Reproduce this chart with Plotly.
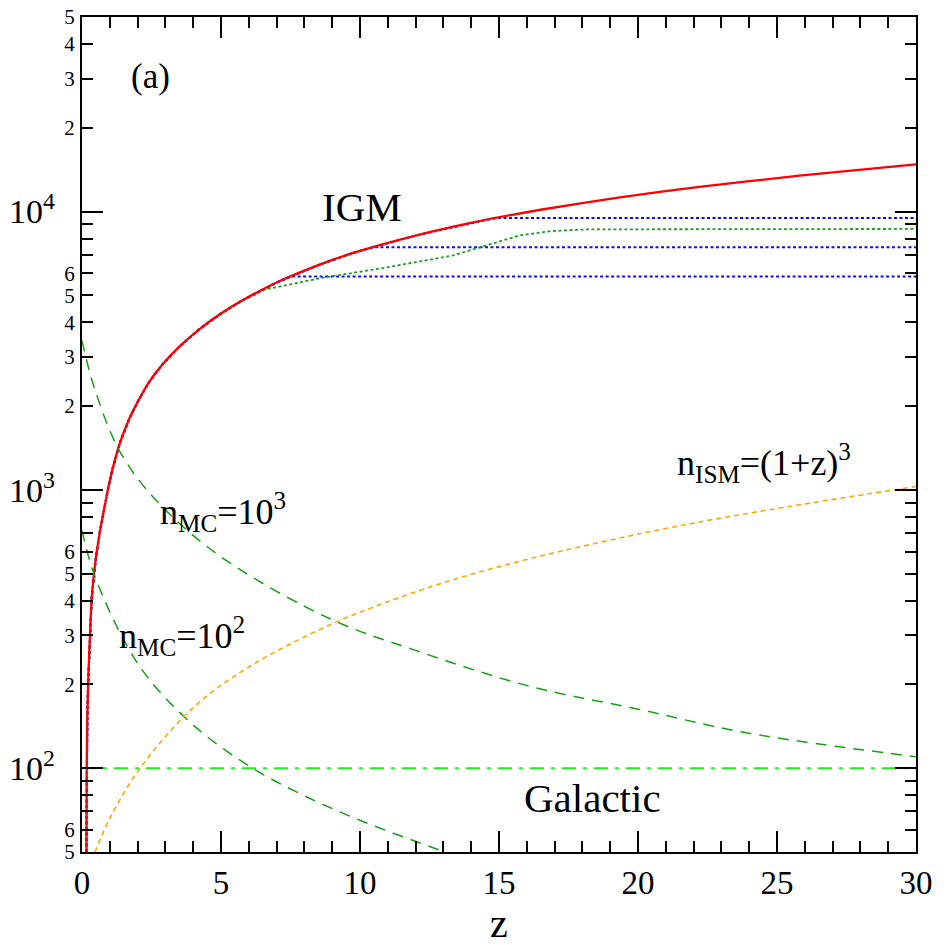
import numpy as np
import plotly.graph_objects as go

# ---------------- data ----------------
z_igm = [0.16, 0.17, 0.19, 0.22, 0.25, 0.35, 0.5, 0.65, 0.93, 1.1, 1.37, 1.7, 2.0, 2.4, 2.9,
         3.5, 4.24, 5.0, 5.68, 7.0, 8.5, 9.75, 12.0, 14.2, 16.5, 19.35, 22.2, 25.8, 30.0]
T_igm = [50, 100, 150, 200, 243, 410, 570, 714, 1000, 1190, 1480, 1800, 2070, 2430, 2826,
         3270, 3790, 4300, 4740, 5560, 6420, 7100, 8200, 9200, 10150, 11250, 12260, 13450, 14780]

blue_levels = [5840, 7440, 9480]

green_z = [6.0, 6.6, 8.56, 10.97, 13.35, 14.57, 15.76, 16.9, 18.2, 30.0]
green_T = [4930, 5250, 5760, 6300, 6960, 7570, 8220, 8510, 8630, 8660]

mc3_z = [0, 0.43, 1.37, 2.7, 5, 8.9, 12, 16.1, 20, 23.9, 30]
mc3_n = [3440, 2350, 1370, 910, 575, 345, 265, 197, 163, 134, 110]

mc2_z = [0, 0.52, 2.09, 4, 6, 7.84, 10, 13.05]
mc2_n = [714, 472, 231, 143, 102, 81, 65, 50]

ism_z = [0.47, 1, 2.09, 4, 6, 9, 12, 15, 18.7, 22, 26, 30]
ism_n = [50, 66, 100, 165, 231, 330, 430, 530, 650, 760, 890, 1028]

gal_z = [0, 30]
gal_n = [100, 100]

x_major = [0, 5, 10, 15, 20, 25, 30]
decades = [100, 1000, 10000]
decade_text = ["10<sup>2</sup>", "10<sup>3</sup>", "10<sup>4</sup>"]
labeled_mult = [2, 3, 4, 5, 6]
unlabeled_mult = [7, 8, 9]

FONT = "Liberation Serif"

# ---------------- figure ----------------
fig = go.Figure()

# blue dotted curves: follow IGM curve, then stay flat
for lvl in blue_levels:
    zc = float(np.interp(lvl, T_igm, z_igm))
    bz = [z for z, t in zip(z_igm, T_igm) if t < lvl] + [zc, 30.0]
    bt = [t for t in T_igm if t < lvl] + [lvl, lvl]
    fig.add_trace(go.Scatter(x=bz, y=bt, mode="lines",
                             line=dict(color="#0a0aff", width=2.0, dash="3px,2.5px"),
                             hoverinfo="skip"))

# green dotted curve
gz = [z for z in z_igm if z < green_z[0]] + green_z
gt = [t for z, t in zip(z_igm, T_igm) if z < green_z[0]] + green_T
fig.add_trace(go.Scatter(x=gz, y=gt, mode="lines",
                         line=dict(color="#1f9f1f", width=1.8, dash="3px,2.5px"),
                         hoverinfo="skip"))

# IGM red
fig.add_trace(go.Scatter(x=z_igm, y=T_igm, mode="lines",
                         line=dict(color="#ff0000", width=2.3, shape="spline", smoothing=0.5),
                         hoverinfo="skip"))

# n_MC curves
fig.add_trace(go.Scatter(x=mc3_z, y=mc3_n, mode="lines",
                         line=dict(color="#16a016", width=1.5, dash="11px,8px", shape="spline"),
                         hoverinfo="skip"))
fig.add_trace(go.Scatter(x=mc2_z, y=mc2_n, mode="lines",
                         line=dict(color="#16a016", width=1.5, dash="11px,8px", shape="spline"),
                         hoverinfo="skip"))
# ISM
fig.add_trace(go.Scatter(x=ism_z, y=ism_n, mode="lines",
                         line=dict(color="#ffa500", width=1.6, dash="5px,4px", shape="spline"),
                         hoverinfo="skip"))
# Galactic
fig.add_trace(go.Scatter(x=gal_z, y=gal_n, mode="lines",
                         line=dict(color="#22ee22", width=2.0, dash="14px,7px,4px,7px"),
                         hoverinfo="skip"))

# dummy trace on overlay axis so it renders
fig.add_trace(go.Scatter(x=[None], y=[None], yaxis="y2", showlegend=False, hoverinfo="skip"))

ymin, ymax = np.log10(50), np.log10(50000)

lab_vals, lab_text, unl_vals = [], [], []
for d in [10, 100, 1000, 10000]:
    for m in labeled_mult:
        v = m * d
        if 50 <= v <= 50000:
            lab_vals.append(v)
            lab_text.append(str(m))
    for m in unlabeled_mult:
        v = m * d
        if 50 <= v <= 50000:
            unl_vals.append(v)

fig.update_layout(
    width=946, height=945,
    margin=dict(l=82, r=30, t=17, b=93, autoexpand=False),
    paper_bgcolor="white", plot_bgcolor="white",
    showlegend=False,
    font=dict(family=FONT, color="black"),
    xaxis=dict(
        range=[0, 30], showgrid=False, zeroline=False, automargin=False,
        showline=True, linecolor="black", linewidth=2, mirror="ticks",
        ticks="inside", ticklen=21, tickwidth=1.5, tickcolor="black",
        tickvals=x_major, ticktext=[str(v) for v in x_major],
        tickfont=dict(family=FONT, size=33, color="black"),
        minor=dict(dtick=1, ticks="inside", ticklen=11, tickwidth=1.5, tickcolor="black"),
    ),
    yaxis=dict(
        type="log", range=[ymin, ymax], showgrid=False, zeroline=False, automargin=False,
        showline=True, linecolor="black", linewidth=2, mirror="ticks",
        ticks="inside", ticklen=11, tickwidth=1.5, tickcolor="black",
        tickvals=lab_vals, ticktext=lab_text,
        tickfont=dict(family=FONT, size=21, color="black"), ticklabelstandoff=1,
        minor=dict(tickmode="array", tickvals=unl_vals, ticks="inside", ticklen=11,
                   tickwidth=1.5, tickcolor="black"),
    ),
    yaxis2=dict(
        type="log", range=[ymin, ymax], overlaying="y", side="left", automargin=False,
        showgrid=False, zeroline=False, showline=False, mirror="ticks",
        ticks="inside", ticklen=21, tickwidth=1.5, tickcolor="black",
        tickvals=decades, ticktext=decade_text,
        tickfont=dict(family=FONT, size=34, color="black"), ticklabelstandoff=26,
    ),
)

# x-axis title placed as a paper annotation (near the bottom edge, as in the reference)
fig.add_annotation(text="z", x=0.5, y=-0.0855, xref="paper", yref="paper",
                   xanchor="center", yanchor="middle", showarrow=False,
                   font=dict(family=FONT, size=40, color="black"))

ann = [
    dict(text="(a)", x=2.48, y=4.487, xanchor="center", yanchor="middle", size=35),
    dict(text="IGM", x=10.07, y=4.016, xanchor="center", yanchor="middle", size=41),
    dict(text="Galactic", x=18.35, y=1.893, xanchor="center", yanchor="middle", size=41),
    dict(text="n<sub>MC</sub>=10<sup>3</sup>", x=2.73, y=2.922, xanchor="left", yanchor="middle", size=36),
    dict(text="n<sub>MC</sub>=10<sup>2</sup>", x=1.26, y=2.474, xanchor="left", yanchor="middle", size=36),
    dict(text="n<sub>ISM</sub>=(1+z)<sup>3</sup>", x=21.33, y=3.096, xanchor="left", yanchor="middle", size=36),
]
for a in ann:
    fig.add_annotation(text=a["text"], x=a["x"], y=a["y"], xref="x", yref="y",
                       xanchor=a["xanchor"], yanchor=a["yanchor"], showarrow=False,
                       font=dict(family=FONT, size=a["size"], color="black"))

fig.write_html("out.html")
